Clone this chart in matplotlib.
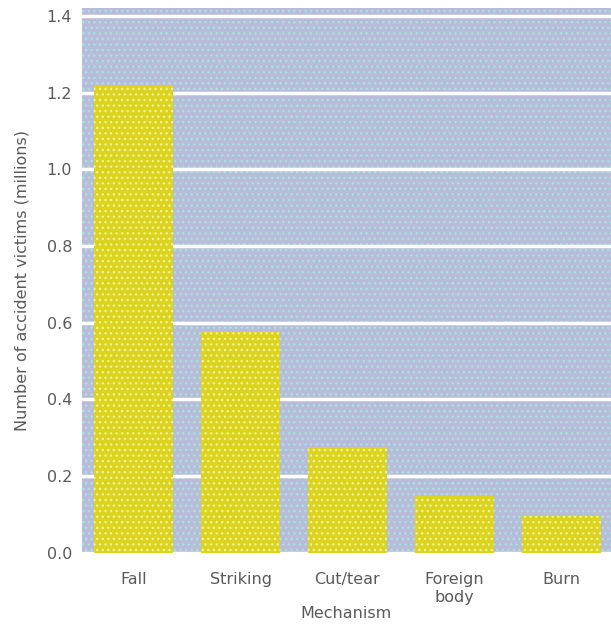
import matplotlib
matplotlib.use("Agg")
import matplotlib.pyplot as plt

categories = ["Fall", "Striking", "Cut/tear", "Foreign\nbody", "Burn"]
values = [1.22, 0.578, 0.277, 0.149, 0.097]
yticks = [0.0, 0.2, 0.4, 0.6, 0.8, 1.0, 1.2, 1.4]
ytick_labels = ["0.0", "0.2", "0.4", "0.6", "0.8", "1.0", "1.2", "1.4"]

plt.rcParams['hatch.linewidth'] = 1.0
plt.rcParams['font.family'] = ['DejaVu Sans']

fig = plt.figure(figsize=(6.11, 6.24), dpi=100)
ax = fig.add_axes([0.134, 0.114, 0.866, 0.873])
ax.set_facecolor("#b8bcd8")
ax.patch.set_hatch("...")
ax.patch.set_edgecolor("#a4e4e4")
ax.patch.set_linewidth(0)

ax.set_axisbelow(True)
ax.yaxis.grid(True, color="white", linewidth=2.5)
ax.xaxis.grid(False)

x = list(range(len(categories)))
ax.bar(x, values, width=0.74, color="#dcd41c", edgecolor="#f0f098", hatch="...", linewidth=0)

ax.set_xlim(-0.486, 4.467)
ax.set_ylim(0, 1.42)
ax.set_yticks(yticks)
ax.set_yticklabels(ytick_labels)
ax.set_xticks(x)
ax.set_xticklabels(categories, linespacing=1.2)

for s in ax.spines.values():
    s.set_visible(False)
ax.tick_params(axis="both", length=0, labelsize=11.5, labelcolor="#5a5a5a")
ax.tick_params(axis="y", pad=7)
ax.tick_params(axis="x", pad=14)

ax.set_ylabel("Number of accident victims (millions)", fontsize=11.5, color="#5a5a5a", labelpad=12)
ax.set_xlabel("Mechanism", fontsize=11.5, color="#5a5a5a", labelpad=1)

fig.savefig("out.png", dpi=100)
